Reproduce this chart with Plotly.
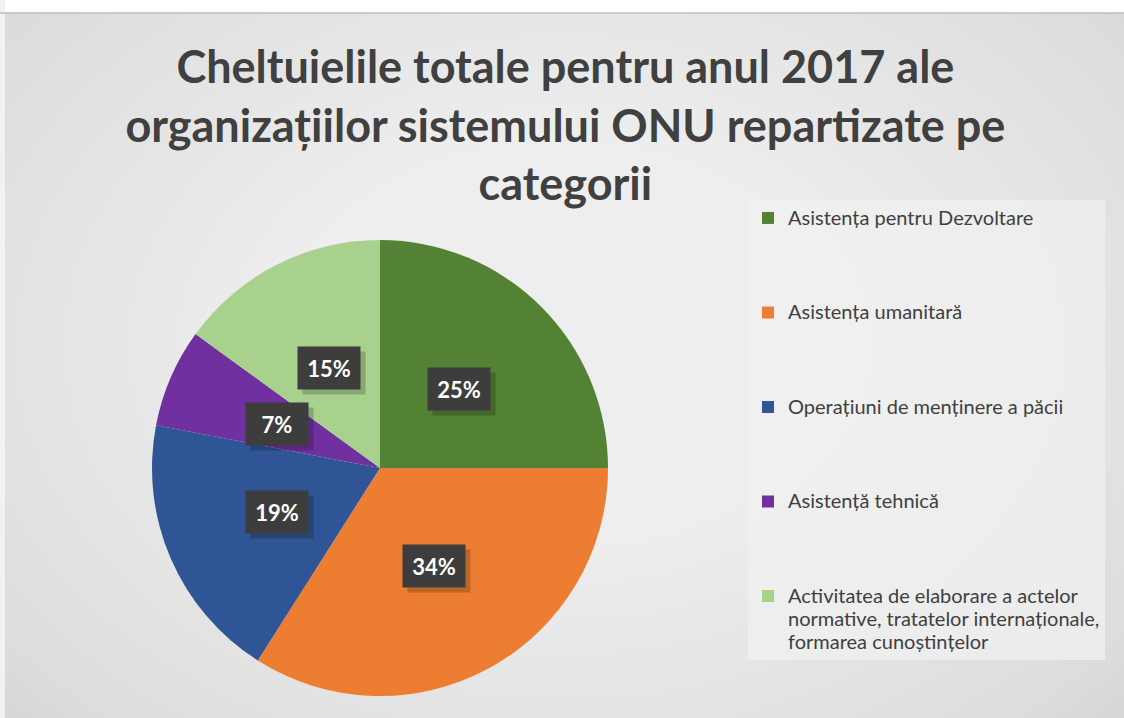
import math
import plotly.graph_objects as go

categories = [
    "Asistența pentru Dezvoltare",
    "Asistența umanitară",
    "Operațiuni de menținere a păcii",
    "Asistență tehnică",
    "Activitatea de elaborare a actelor<br>normative, tratatelor internaționale,<br>formarea cunoștințelor",
]
values = [25, 34, 19, 7, 15]
colors = ["#548235", "#ED7D31", "#2F5597", "#7030A0", "#A9D18E"]
title_text = ("Cheltuielile totale pentru anul 2017 ale<br>"
              "organizațiilor sistemului ONU repartizate pe<br>categorii")

W, H = 1124, 718
FONT = "Lato"

# pie geometry (pixels)
cx_px, cy_px, r_px = 380, 468, 228
dom_x = [(cx_px - r_px) / W, (cx_px + r_px) / W]
dom_y = [(H - cy_px - r_px) / H, (H - cy_px + r_px) / H]


def leg(c):
    body = f"<span style='font-size:20px'>{c}</span>"
    return body if "<br>" in c else body + "<br> <br> <br> "


legend_labels = [leg(c) for c in categories]

fig = go.Figure()
fig.add_trace(go.Pie(
    labels=legend_labels,
    values=values,
    sort=False,
    direction="clockwise",
    rotation=0,
    marker=dict(colors=colors, line=dict(width=0)),
    textinfo="none",
    hoverinfo="percent",
    domain=dict(x=dom_x, y=dom_y),
    showlegend=True,
))

# background: radial-ish grey gradient
shapes = [dict(type="rect", xref="paper", yref="paper", x0=0, x1=1, y0=0, y1=1,
               fillcolor="#c4c4c4", line=dict(width=0), layer="below")]
n = 40
for i in range(n):
    f = 1 - i / n
    rx = 0.85 * f
    ry = 0.95 * f
    shapes.append(dict(type="circle", xref="paper", yref="paper",
                       x0=0.5 - rx, x1=0.5 + rx, y0=0.52 - ry, y1=0.52 + ry,
                       fillcolor="rgba(255,255,255,0.055)", line=dict(width=0),
                       layer="below"))
# white strip on top and left border
shapes.append(dict(type="rect", xref="paper", yref="paper", x0=0, x1=1,
                   y0=1 - 13 / H, y1=1, fillcolor="white", line=dict(width=0), layer="below"))
shapes.append(dict(type="rect", xref="paper", yref="paper", x0=0, x1=5 / W,
                   y0=0, y1=1, fillcolor="#f2f2f2", line=dict(width=0), layer="below"))
shapes.append(dict(type="line", xref="paper", yref="paper", x0=0, x1=1,
                   y0=1 - 13 / H, y1=1 - 13 / H, line=dict(color="#bdbdbd", width=1.5),
                   layer="below"))

# percentage labels in dark boxes, placed at half radius along slice mid-angle
annotations = []
total = sum(values)
cum = 0
for v in values:
    mid = (cum + v / 2) / total * 2 * math.pi
    cum += v
    px = cx_px + 0.49 * r_px * math.sin(mid)
    py = cy_px - 0.49 * r_px * math.cos(mid)
    txt = f"<b>{round(v / total * 100)}%</b>"
    common = dict(xref="paper", yref="paper", showarrow=False, width=50, height=30,
                  xanchor="center", yanchor="middle", borderpad=6)
    annotations.append(dict(
        x=(px + 5) / W, y=(H - py - 5) / H, text=" ",
        font=dict(family=FONT, size=22),
        bgcolor="rgba(0,0,0,0.2)", **common))
    annotations.append(dict(
        x=px / W, y=(H - py) / H, text=txt,
        font=dict(family=FONT, size=22, color="white"),
        bgcolor="#3d3d3d", **common))

fig.update_layout(
    width=W, height=H,
    margin=dict(l=0, r=0, t=0, b=0),
    paper_bgcolor="white",
    plot_bgcolor="rgba(0,0,0,0)",
    title=dict(text=f"<b>{title_text}</b>", x=0.503, xanchor="center",
               y=1 - 83 / H, yanchor="top",
               font=dict(family=FONT, size=45, color="#404040")),
    legend=dict(x=748 / W, y=1 - 200 / H, xanchor="left", yanchor="top",
                bgcolor="rgba(240,240,240,0.75)", valign="top",
                font=dict(family=FONT, size=17.6, color="#404040"),
                itemwidth=30, borderwidth=0),
    shapes=shapes,
    annotations=annotations,
)

fig.write_html("out.html", config={"displayModeBar": False},
               post_script="document.body.style.margin='0';")
